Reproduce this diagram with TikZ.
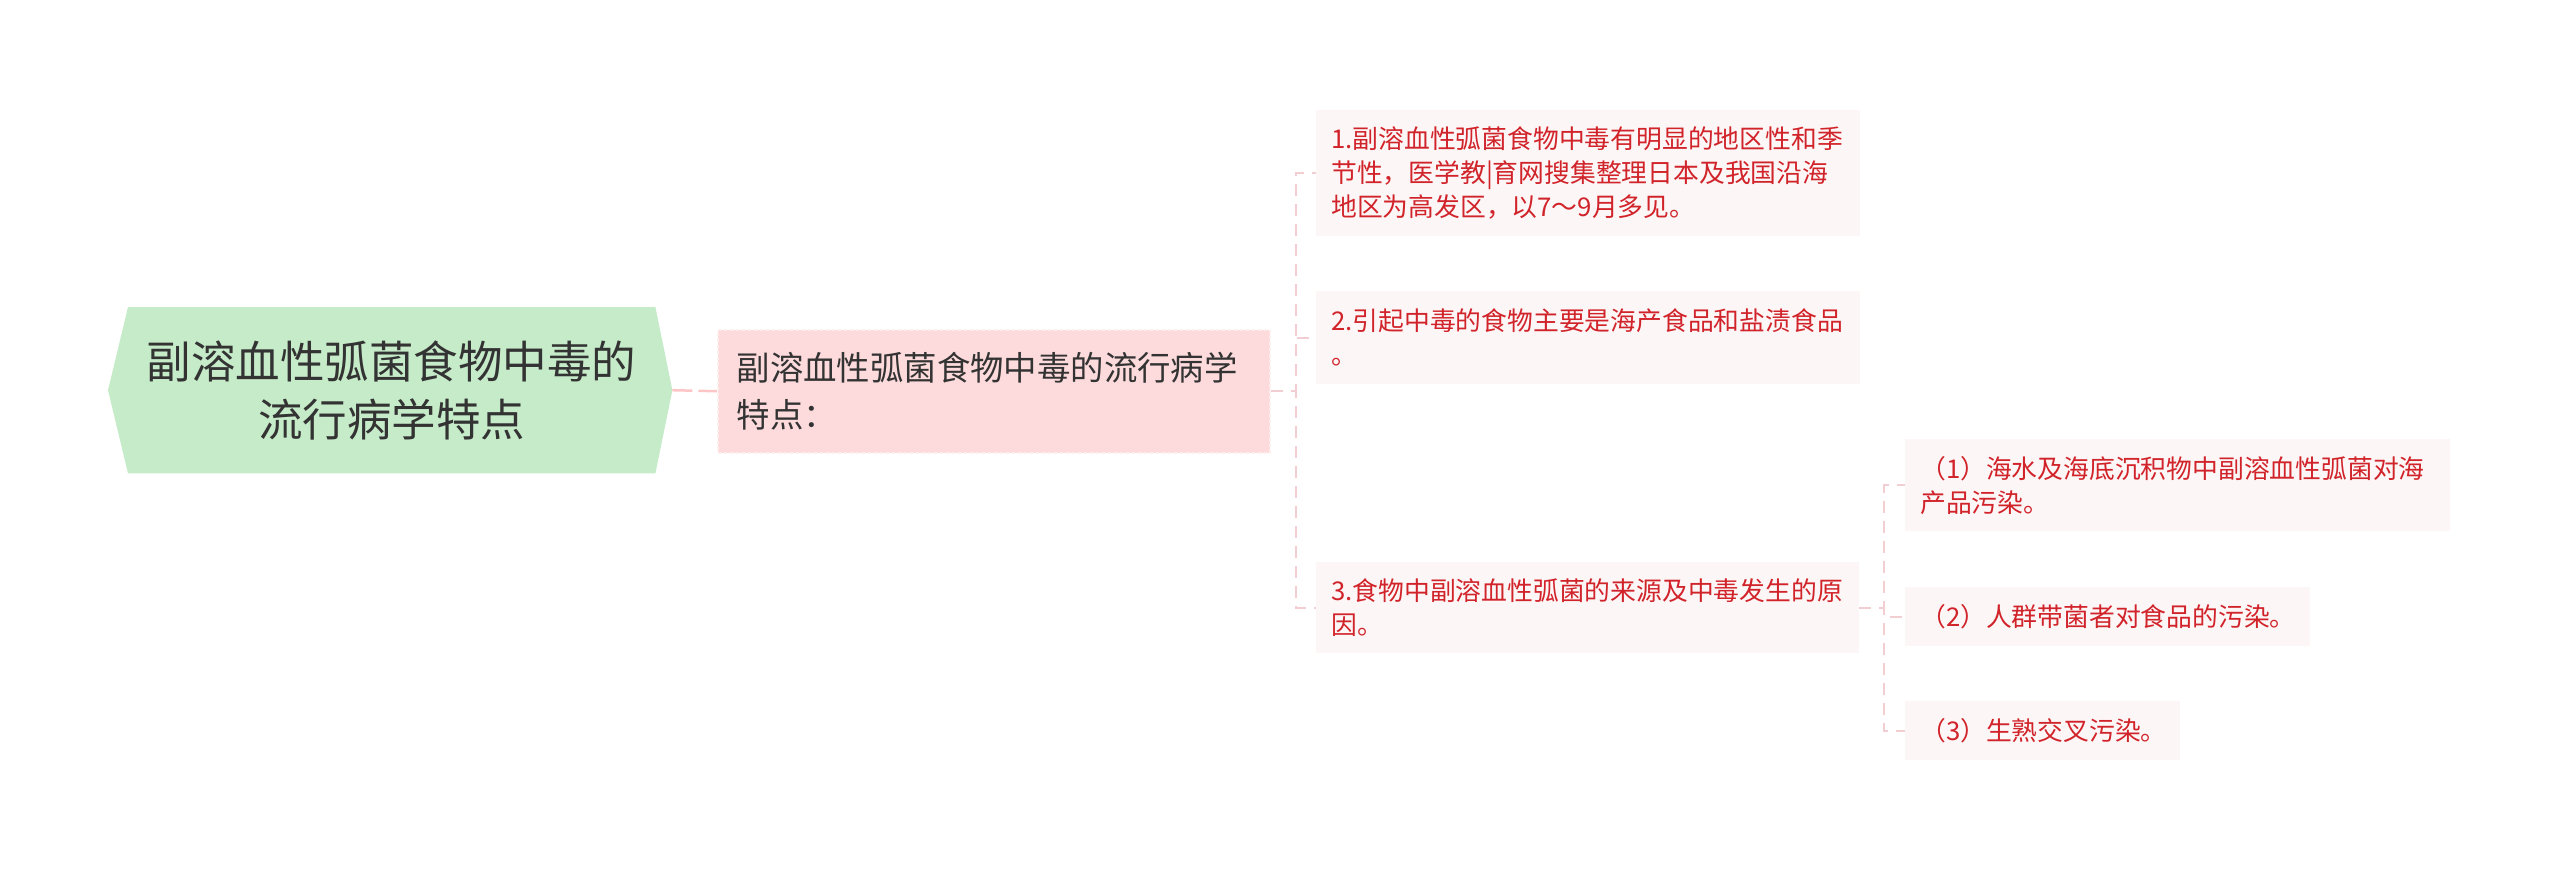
\documentclass[tikz,border=0pt]{standalone}
\usepackage{fontspec}
\setmainfont{Noto Sans CJK SC}
\usetikzlibrary{backgrounds}
\definecolor{rootfill}{HTML}{C6EBC9}
\definecolor{pinkfill}{HTML}{FDDBDC}
\definecolor{leaffill}{HTML}{FDF6F6}
\definecolor{leafred}{HTML}{D1232A}
\definecolor{conncol}{HTML}{F2CDD1}
\definecolor{darktext}{HTML}{333333}
\begin{document}
\begin{tikzpicture}[x=1pt,y=-1pt,
  leaf/.style={fill=leaffill,text=leafred,font=\fontsize{25.8}{34}\selectfont,align=left,
    inner xsep=15pt,inner ysep=0pt,anchor=north west},
  conn/.style={draw=conncol,line width=2pt,dash pattern=on 12pt off 8pt},
  rootconn/.style={draw=pinkfill!90!red,line width=2.5pt,dash pattern=on 20pt off 6pt}]
\useasboundingbox (0,0) rectangle (2560,871);
% root
\node[text=darktext,font=\fontsize{44.5}{58}\selectfont,align=center,minimum width=527pt,
  minimum height=166pt,inner sep=0pt,anchor=north west] (root) at (128,307)
  {副溶血性弧菌食物中毒的\\流行病学特点};
\begin{scope}[on background layer]
\fill[rootfill] (root.north west) -- (root.north east) -- ([xshift=17pt]root.east)
  -- (root.south east) -- (root.south west) -- ([xshift=-20pt]root.west) -- cycle;
\end{scope}
% main branch
\node[fill=pinkfill,draw=white!55!pinkfill,dashed,line width=1.5pt,text=darktext,
  font=\fontsize{33.4}{47}\selectfont,align=left,inner xsep=19pt,inner ysep=0pt,
  text width=514pt,minimum height=123pt,anchor=north west] (main) at (717,329)
  {副溶血性弧菌食物中毒的流行病学\\特点：};
% leaves
\node[leaf,text width=514pt,minimum height=126pt] (b1) at (1316,110)
  {1.副溶血性弧菌食物中毒有明显的地区性和季\\节性，医学教|育网搜集整理日本及我国沿海\\地区为高发区，以7～9月多见。};
\node[leaf,text width=514pt,minimum height=93pt] (b2) at (1316,291)
  {2.引起中毒的食物主要是海产食品和盐渍食品\\。};
\node[leaf,text width=513pt,minimum height=91pt] (b3) at (1316,562)
  {3.食物中副溶血性弧菌的来源及中毒发生的原\\因。};
\node[leaf,text width=515pt,minimum height=92pt] (s1) at (1905,439)
  {（1）海水及海底沉积物中副溶血性弧菌对海\\产品污染。};
\node[leaf,text width=375pt,minimum height=59pt] (s2) at (1905,587)
  {（2）人群带菌者对食品的污染。};
\node[leaf,text width=245pt,minimum height=59pt] (s3) at (1905,701)
  {（3）生熟交叉污染。};
% connectors
\draw[rootconn] (root.east) ++(17pt,0) -- (main.west);
\draw[conn] (main.east) -- ++(25,0) |- (b1.west);
\draw[conn] (main.east) -- ++(25,0) |- (b2.west);
\draw[conn] (main.east) -- ++(25,0) |- (b3.west);
\draw[conn] (b3.east) -- ++(25,0) |- (s1.west);
\draw[conn] (b3.east) -- ++(25,0) |- (s2.west);
\draw[conn] (b3.east) -- ++(25,0) |- (s3.west);
\end{tikzpicture}
\end{document}
